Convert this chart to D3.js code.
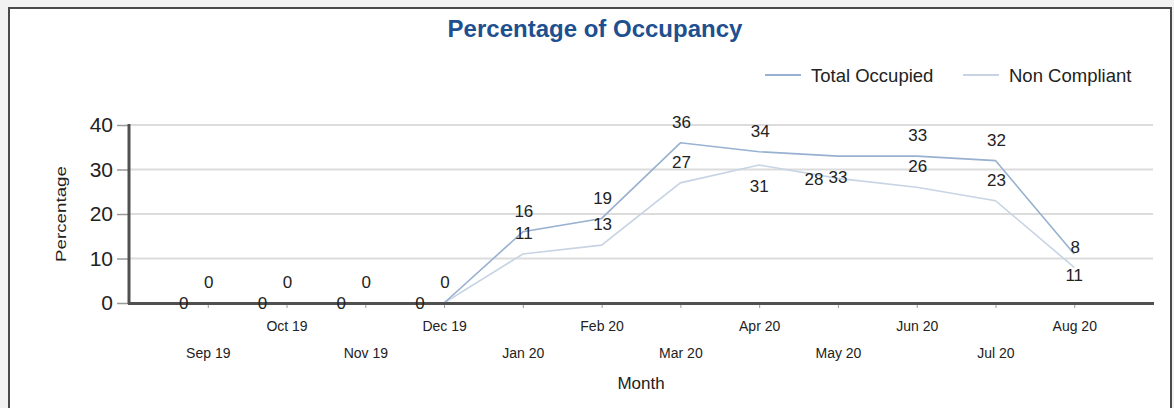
<!DOCTYPE html>
<html>
<head>
<meta charset="utf-8">
<script src="https://cdn.jsdelivr.net/npm/d3@7"></script>
<style>
  body { margin: 0; background: #f2f2f2; font-family: "Liberation Sans", Arial, sans-serif; }
  svg { display: block; }
</style>
</head>
<body>
<svg id="chart"></svg>
<script>
const dims = { width: 1174, height: 408 };

// data
const months = ['Sep 19', 'Oct 19', 'Nov 19', 'Dec 19', 'Jan 20', 'Feb 20',
    'Mar 20', 'Apr 20', 'May 20', 'Jun 20', 'Jul 20', 'Aug 20'];
const totalOccupied = [0, 0, 0, 0, 16, 19, 36, 34, 33, 33, 32, 11];
const nonCompliant = [0, 0, 0, 0, 11, 13, 27, 31, 28, 26, 23, 8];
const yTicks = [0, 10, 20, 30, 40];

// where each data label sits relative to its point
const totalLabelPos = ['above', 'above', 'above', 'above', 'above', 'above',
    'above', 'above', 'below', 'above', 'above', 'below'];
const ncLabelPos = ['left', 'left', 'left', 'left', 'above', 'above',
    'above', 'below', 'left', 'above', 'above', 'above'];

const series = [
    { name: 'Total Occupied', values: totalOccupied, pos: totalLabelPos, color: '#98b1d0' },
    { name: 'Non Compliant', values: nonCompliant, pos: ncLabelPos, color: '#c8d4e4' }
];

const svg = d3.select('#chart')
    .attr('width', dims.width)
    .attr('height', dims.height);

// frame
svg.append('rect')
    .attr('x', 9).attr('y', 8)
    .attr('width', 1162).attr('height', 405)
    .attr('fill', '#fff')
    .attr('stroke', '#4a4a4a')
    .attr('stroke-width', 2);

// scales
const x = d3.scalePoint()
    .domain(months)
    .range([129, 1153])
    .padding(1);

const y = d3.scaleLinear()
    .domain([0, 40])
    .range([303, 125]);

// title
svg.append('text')
    .attr('x', 595).attr('y', 37)
    .attr('text-anchor', 'middle')
    .attr('font-size', 24)
    .attr('font-weight', 'bold')
    .attr('fill', '#1e4f8f')
    .text('Percentage of Occupancy');

// gridlines
svg.append('g')
    .selectAll('line')
    .data(yTicks.filter(d => d > 0))
    .enter().append('line')
    .attr('x1', 129).attr('x2', 1153)
    .attr('y1', d => y(d)).attr('y2', d => y(d))
    .attr('stroke', '#dcdcdc')
    .attr('stroke-width', 2);

// lines
const line = d3.line()
    .x((d, i) => x(months[i]))
    .y(d => y(d));

svg.append('g')
    .selectAll('path')
    .data(series.slice().reverse())
    .enter().append('path')
    .attr('d', d => line(d.values))
    .attr('fill', 'none')
    .attr('stroke', d => d.color)
    .attr('stroke-width', 1.6);

// y axis
const yAxis = svg.append('g')
    .attr('transform', 'translate(129,0)')
    .call(d3.axisLeft(y).tickValues(yTicks).tickSize(12).tickPadding(4));
yAxis.select('.domain').remove();
yAxis.selectAll('.tick line').attr('stroke', '#9a9a9a').attr('stroke-width', 1.5);
yAxis.selectAll('.tick text')
    .attr('font-size', 21)
    .attr('font-family', '"Liberation Sans", Arial, sans-serif')
    .attr('fill', '#222');

// x axis
const xAxis = svg.append('g')
    .attr('transform', 'translate(0,303)')
    .call(d3.axisBottom(x).tickSize(5).tickPadding(0));
xAxis.select('.domain').remove();
xAxis.selectAll('.tick line').attr('stroke', '#9a9a9a');
xAxis.selectAll('.tick text')
    .attr('font-size', 14)
    .attr('font-family', '"Liberation Sans", Arial, sans-serif')
    .attr('fill', '#222')
    .attr('dy', null)
    .attr('y', (d, i) => i % 2 === 0 ? 55 : 28);

// axis lines
svg.append('line')
    .attr('x1', 129).attr('x2', 129)
    .attr('y1', 124).attr('y2', 304)
    .attr('stroke', '#505050').attr('stroke-width', 3);
svg.append('line')
    .attr('x1', 128).attr('x2', 1154)
    .attr('y1', 303.5).attr('y2', 303.5)
    .attr('stroke', '#505050').attr('stroke-width', 3);

// data labels
const labelOffset = {
    above: { dx: 1, dy: -21 },
    below: { dx: 0, dy: 21 },
    left: { dx: -24, dy: 0 }
};

series.forEach(s => {
    svg.append('g')
        .selectAll('text')
        .data(s.values)
        .enter().append('text')
        .attr('x', (d, i) => x(months[i]) + labelOffset[s.pos[i]].dx)
        .attr('y', (d, i) => y(d) + labelOffset[s.pos[i]].dy)
        .attr('dy', '0.36em')
        .attr('text-anchor', 'middle')
        .attr('font-size', 17)
        .attr('fill', '#222')
        .text(d => d);
});

// axis titles
svg.append('text')
    .attr('transform', 'translate(66,214) rotate(-90) scale(1.25,1)')
    .attr('text-anchor', 'middle')
    .attr('font-size', 15)
    .attr('fill', '#222')
    .text('Percentage');

svg.append('text')
    .attr('x', 641).attr('y', 389)
    .attr('text-anchor', 'middle')
    .attr('font-size', 17)
    .attr('fill', '#222')
    .text('Month');

// legend
const legend = svg.append('g')
    .selectAll('g')
    .data(series)
    .enter().append('g')
    .attr('transform', (d, i) => `translate(${i === 0 ? 765 : 963},75)`);

legend.append('line')
    .attr('x1', 0).attr('x2', 36)
    .attr('stroke', d => d.color)
    .attr('stroke-width', 2);

legend.append('text')
    .attr('x', 46)
    .attr('dy', '0.36em')
    .attr('font-size', 18.5)
    .attr('fill', '#222')
    .text(d => d.name);
</script>
</body>
</html>
